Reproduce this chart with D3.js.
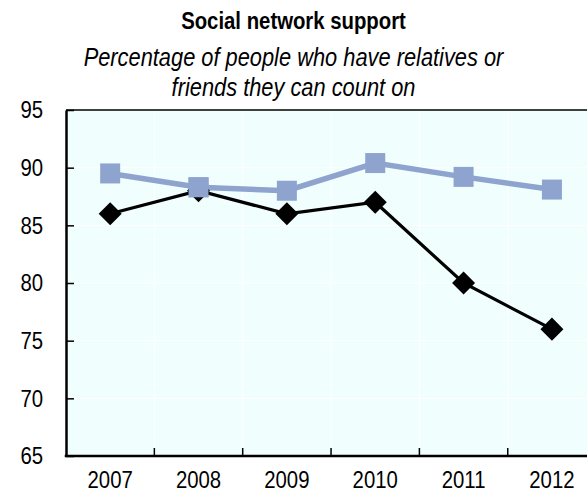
<!DOCTYPE html>
<html>
<head>
<meta charset="utf-8">
<script src="https://cdn.jsdelivr.net/npm/d3@7"></script>
<style>
  html, body { margin: 0; padding: 0; background: #fff; }
  svg { display: block; font-family: "Liberation Sans", Arial, sans-serif; }
</style>
</head>
<body>
<svg id="chart" width="587" height="494"></svg>
<script>
// Chart data
const years = ["2007", "2008", "2009", "2010", "2011", "2012"];
const seriesBlue = [89.5, 88.3, 88.0, 90.4, 89.2, 88.1];
const seriesBlack = [86, 88, 86, 87, 80, 76];
const yTicks = [65, 70, 75, 80, 85, 90, 95];
const titleText = "Social network support";
const subtitleLines = ["Percentage of people who have relatives or", "friends they can count on"];

const FONT = "Liberation Sans, Arial, sans-serif";
const NARROW = 0.83; // horizontal squeeze for a condensed look
const svg = d3.select("#chart");
const W = 587;
const plot = { left: 66, top: 110, bottom: 456 };
const band = 88.35;
const plotRight = plot.left + band * years.length;

const x = d3.scaleBand().domain(years).range([plot.left, plotRight]).paddingInner(0).paddingOuter(0);
const y = d3.scaleLinear().domain([65, 95]).range([plot.bottom, plot.top]);

// Titles (condensed via horizontal scale)
svg.append("text").attr("transform", `translate(${W / 2},29) scale(${NARROW},1)`)
  .attr("text-anchor", "middle").attr("font-size", 24.5).attr("font-weight", "bold")
  .attr("font-family", FONT).attr("fill", "#000").text(titleText);
subtitleLines.forEach((t, i) => {
  svg.append("text").attr("transform", `translate(${W / 2},${66 + i * 30}) scale(${NARROW},1)`)
    .attr("text-anchor", "middle").attr("font-size", 26.3).attr("font-style", "italic")
    .attr("font-family", FONT).attr("fill", "#000").text(t);
});

// Plot background
svg.append("rect").attr("x", plot.left).attr("y", plot.top)
  .attr("width", plotRight - plot.left).attr("height", plot.bottom - plot.top)
  .attr("fill", "#F0FEFE");

// Faint white gridlines
const grid = svg.append("g").attr("stroke", "#fff").attr("stroke-width", 1);
yTicks.slice(1, -1).forEach(v => {
  grid.append("line").attr("x1", plot.left).attr("x2", plotRight)
    .attr("y1", y(v)).attr("y2", y(v));
});
years.slice(1).forEach(yr => {
  grid.append("line").attr("x1", x(yr)).attr("x2", x(yr))
    .attr("y1", plot.top).attr("y2", plot.bottom);
});

// Top border
svg.append("line").attr("x1", plot.left).attr("x2", plotRight)
  .attr("y1", plot.top).attr("y2", plot.top)
  .attr("stroke", "#000").attr("stroke-width", 1.5);

// Y axis: ticks pointing inward
const yPad = 23;
const yAxis = d3.axisLeft(y).tickValues(yTicks).tickSize(-8).tickPadding(yPad).tickSizeOuter(0);
const gy = svg.append("g").attr("transform", `translate(${plot.left},0)`).call(yAxis);
gy.select(".domain").attr("stroke", "#000").attr("stroke-width", 2.5);
gy.selectAll(".tick line").attr("stroke", "#000").attr("stroke-width", 1.5);
gy.selectAll(".tick text").attr("font-size", 24.5).attr("fill", "#000")
  .attr("font-family", FONT)
  .attr("x", -yPad / NARROW)
  .attr("transform", `scale(${NARROW},1)`);

// X axis: labels centred in bands, ticks at band boundaries
const xAxis = d3.axisBottom(x).tickSize(0).tickPadding(15).tickSizeOuter(0);
const gx = svg.append("g").attr("transform", `translate(0,${plot.bottom})`).call(xAxis);
gx.select(".domain").remove();
gx.selectAll(".tick text").attr("font-size", 24.5).attr("fill", "#000")
  .attr("font-family", FONT)
  .attr("transform", `scale(${NARROW},1)`);
years.slice(1).forEach(yr => {
  svg.append("line").attr("x1", x(yr)).attr("x2", x(yr))
    .attr("y1", plot.bottom).attr("y2", plot.bottom - 8)
    .attr("stroke", "#000").attr("stroke-width", 1.5);
});
svg.append("line").attr("x1", plot.left - 1.25).attr("x2", plotRight)
  .attr("y1", plot.bottom).attr("y2", plot.bottom)
  .attr("stroke", "#000").attr("stroke-width", 2.5);

const cx = yr => x(yr) + x.bandwidth() / 2;
const line = d3.line().x((d, i) => cx(years[i])).y(d => y(d));

// Blue series with squares
svg.append("path").datum(seriesBlue).attr("d", line)
  .attr("fill", "none").attr("stroke", "#8EA4CE").attr("stroke-width", 5.5);
svg.append("g").selectAll("rect").data(seriesBlue).join("rect")
  .attr("x", (d, i) => cx(years[i]) - 10).attr("y", d => y(d) - 10)
  .attr("width", 20).attr("height", 20).attr("fill", "#8EA4CE");

// Black series with diamonds
svg.append("path").datum(seriesBlack).attr("d", line)
  .attr("fill", "none").attr("stroke", "#000").attr("stroke-width", 3.2);
const diamond = d3.symbol().type(d3.symbolSquare).size(265);
svg.append("g").selectAll("path").data(seriesBlack).join("path")
  .attr("d", diamond)
  .attr("transform", (d, i) => `translate(${cx(years[i])},${y(d)}) rotate(45)`)
  .attr("fill", "#000");

// Redraw the 2008 blue square above the black marker
svg.append("rect")
  .attr("x", cx(years[1]) - 10).attr("y", y(seriesBlue[1]) - 10)
  .attr("width", 20).attr("height", 20).attr("fill", "#8EA4CE");
</script>
</body>
</html>
